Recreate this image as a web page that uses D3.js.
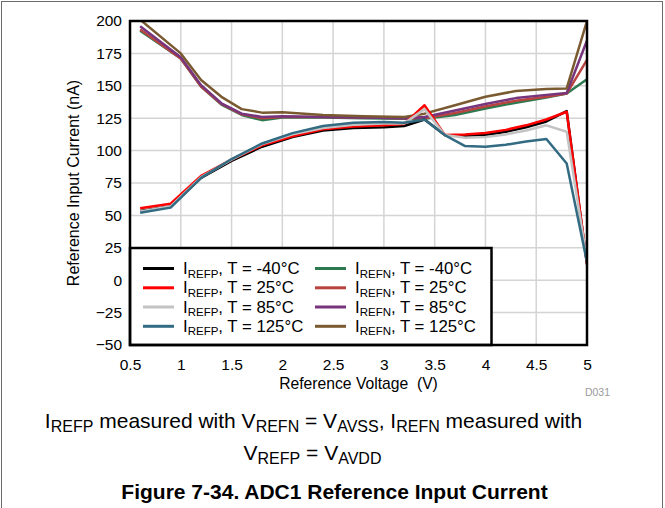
<!DOCTYPE html>
<html>
<head>
<meta charset="utf-8">
<script src="https://cdn.jsdelivr.net/npm/d3@7"></script>
<style>
  html, body { margin: 0; padding: 0; background: #fff; }
  svg { display: block; font-family: "Liberation Sans", Arial, sans-serif; }
</style>
</head>
<body>
<svg id="chart" width="665" height="508"></svg>
<script>
// Reference voltage sample points (V)
const vRefp = [0.6, 0.9, 1.2, 1.5, 1.8, 2.1, 2.4, 2.7, 3.0, 3.2, 3.4, 3.6, 3.8, 4.0, 4.2, 4.4, 4.6, 4.8, 5.0];
const vRefn = [0.6, 1.0, 1.2, 1.4, 1.6, 1.8, 2.0, 2.4, 2.8, 3.2, 3.4, 3.7, 4.0, 4.3, 4.6, 4.8, 5.0];

// IREFP current (nA) per temperature
const irefpM40 = [53.5, 57, 79, 92, 103, 110.5, 115.5, 117.5, 118, 119, 124, 112, 111.5, 112, 114.5, 118, 122.5, 130.5, 12];
const irefp25  = [55.5, 59, 80.5, 93, 104, 111, 116.5, 118.5, 119.5, 120.5, 135, 112, 112.5, 113.5, 116, 119.5, 124, 130, 13];
const irefp85  = [53, 57, 79.5, 93, 105, 112.5, 117.5, 120, 121, 121, 132, 112, 110, 110.5, 112.5, 115.5, 119.5, 114.5, 15];
const irefp125 = [52, 56, 79, 93.5, 105.5, 113.5, 119, 121.5, 122, 121.5, 124, 112, 103.5, 103, 104.5, 107, 109, 90, 14];

// IREFN current (nA) per temperature
const irefnM40 = [192.5, 171, 149.5, 135.5, 127.5, 123.5, 125.5, 125.5, 125, 124.5, 124.5, 127.5, 132.5, 137, 141, 144, 155];
const irefn25  = [193.5, 171, 149.5, 136, 128, 125, 126, 126, 125.5, 125, 125, 129, 134, 138.5, 141.5, 144, 170];
const irefn85  = [196, 172, 150.5, 136.5, 128.5, 126, 126.5, 126, 125.5, 125, 126, 131, 136, 140.5, 143, 144.5, 185];
const irefn125 = [201, 175, 154.5, 141.5, 132, 129.3, 129.5, 127.5, 126.5, 126, 128.5, 135, 141.5, 146, 147.5, 148, 200];

// Axis ticks
const xTicks = [0.5, 1, 1.5, 2, 2.5, 3, 3.5, 4, 4.5, 5];
const yTicks = [-50, -25, 0, 25, 50, 75, 100, 125, 150, 175, 200];

// Series: legend order (column 1 = IREFP, column 2 = IREFN)
const series = [
  { sub: "REFP", temp: "-40°C", color: "#000000", v: vRefp, y: irefpM40 },
  { sub: "REFP", temp: "25°C",  color: "#ff0000", v: vRefp, y: irefp25 },
  { sub: "REFP", temp: "85°C",  color: "#c3c3c3", v: vRefp, y: irefp85 },
  { sub: "REFP", temp: "125°C", color: "#336b82", v: vRefp, y: irefp125 },
  { sub: "REFN", temp: "-40°C", color: "#2d7a50", v: vRefn, y: irefnM40 },
  { sub: "REFN", temp: "25°C",  color: "#b9433f", v: vRefn, y: irefn25 },
  { sub: "REFN", temp: "85°C",  color: "#76357d", v: vRefn, y: irefn85 },
  { sub: "REFN", temp: "125°C", color: "#7a5a30", v: vRefn, y: irefn125 }
];

const svg = d3.select("#chart");
const plot = { left: 130, top: 21, right: 587, bottom: 345 };

const x = d3.scaleLinear().domain([0.5, 5]).range([plot.left, plot.right]);
const y = d3.scaleLinear().domain([-50, 200]).range([plot.bottom, plot.top]);

// Outer figure frame
svg.append("rect")
  .attr("x", 1.5).attr("y", 1.5).attr("width", 661).attr("height", 530)
  .attr("fill", "none").attr("stroke", "#6b6b6b").attr("stroke-width", 1);

// Grid
const grid = svg.append("g");
grid.selectAll("line.v").data(xTicks).join("line")
  .attr("x1", d => x(d)).attr("x2", d => x(d))
  .attr("y1", plot.top).attr("y2", plot.bottom)
  .attr("stroke", "#d4d4d4").attr("stroke-width", 1.5);
grid.selectAll("line.h").data(yTicks).join("line")
  .attr("y1", d => y(d)).attr("y2", d => y(d))
  .attr("x1", plot.left).attr("x2", plot.right)
  .attr("stroke", "#d4d4d4").attr("stroke-width", 1.5);

// Axes (labels only; the frame is drawn separately)
const xAxis = svg.append("g")
  .attr("transform", `translate(0,${plot.bottom})`)
  .call(d3.axisBottom(x).tickValues(xTicks).tickSize(0).tickPadding(14).tickFormat(d3.format("")));
const yAxis = svg.append("g")
  .attr("transform", `translate(${plot.left},0)`)
  .call(d3.axisLeft(y).tickValues(yTicks).tickSize(0).tickPadding(8));
[xAxis, yAxis].forEach(a => {
  a.select(".domain").remove();
  a.selectAll("text").attr("font-size", 15.5).attr("fill", "#000")
    .attr("font-family", "'Liberation Sans', Arial, sans-serif");
});

// Lines
svg.append("defs").append("clipPath").attr("id", "plotclip")
  .append("rect").attr("x", plot.left).attr("y", plot.top)
  .attr("width", plot.right - plot.left).attr("height", plot.bottom - plot.top);

const line = d3.line().x(d => x(d[0])).y(d => y(d[1]));
const drawOrder = [4, 5, 6, 7, 0, 1, 2, 3];
const lines = svg.append("g").attr("clip-path", "url(#plotclip)");
drawOrder.forEach(i => {
  const s = series[i];
  lines.append("path")
    .datum(s.v.map((v, k) => [v, s.y[k]]))
    .attr("fill", "none").attr("stroke", s.color)
    .attr("stroke-width", 2.5).attr("stroke-linejoin", "round")
    .attr("d", line);
});

// Legend
const leg = { x0: 130, y0: 248, x1: 491.5, y1: 345 };
svg.append("rect")
  .attr("x", leg.x0).attr("y", leg.y0)
  .attr("width", leg.x1 - leg.x0).attr("height", leg.y1 - leg.y0)
  .attr("fill", "#fff").attr("stroke", "#000").attr("stroke-width", 2.5);

const colX = [143, 315];
const rowY = [268.5, 287.8, 307, 326.3];
series.forEach((s, i) => {
  const cx = colX[Math.floor(i / 4)];
  const cy = rowY[i % 4];
  svg.append("line")
    .attr("x1", cx).attr("x2", cx + 31).attr("y1", cy).attr("y2", cy)
    .attr("stroke", s.color).attr("stroke-width", 3);
  const t = svg.append("text").attr("x", cx + 40).attr("y", cy + 5.5)
    .attr("font-size", 16.8).attr("fill", "#000");
  t.append("tspan").text("I");
  t.append("tspan").attr("font-size", 11.5).attr("dy", 3.5).text(s.sub);
  t.append("tspan").attr("dy", -3.5).text(`, T = ${s.temp}`);
});

// Plot frame
svg.append("rect")
  .attr("x", plot.left).attr("y", plot.top)
  .attr("width", plot.right - plot.left).attr("height", plot.bottom - plot.top)
  .attr("fill", "none").attr("stroke", "#000").attr("stroke-width", 2.5);

// Axis titles
svg.append("text")
  .attr("transform", `translate(79,${(plot.top + plot.bottom) / 2}) rotate(-90)`)
  .attr("text-anchor", "middle").attr("font-size", 16).text("Reference Input Current (nA)");
svg.append("text")
  .attr("x", (plot.left + plot.right) / 2).attr("y", 389)
  .attr("text-anchor", "middle").attr("font-size", 15.7)
  .attr("xml:space", "preserve").style("white-space", "pre")
  .text("Reference Voltage  (V)");
svg.append("text")
  .attr("x", 610).attr("y", 396).attr("text-anchor", "end")
  .attr("font-size", 10.5).attr("fill", "#9a9a9a").text("D031");

// Caption with subscripts
function richText(xPos, yPos, parts, size, subSize, anchor) {
  const t = svg.append("text").attr("x", xPos).attr("y", yPos)
    .attr("font-size", size).attr("text-anchor", anchor).attr("fill", "#000");
  let sub = false;
  parts.forEach(p => {
    const isSub = Array.isArray(p);
    const span = t.append("tspan").text(isSub ? p[0] : p);
    if (isSub) span.attr("font-size", subSize);
    if (isSub && !sub) span.attr("dy", 3.5);
    if (!isSub && sub) span.attr("dy", -3.5);
    sub = isSub;
  });
  return t;
}
richText(313.5, 428,
  ["I", ["REFP"], " measured with V", ["REFN"], " = V", ["AVSS"], ", I", ["REFN"], " measured with"],
  21, 16, "middle");
richText(312.5, 460, ["V", ["REFP"], " = V", ["AVDD"]], 21, 16, "middle");

svg.append("text")
  .attr("x", 334.5).attr("y", 499).attr("text-anchor", "middle")
  .attr("font-size", 21).attr("font-weight", "bold")
  .text("Figure 7-34. ADC1 Reference Input Current");
</script>
</body>
</html>
